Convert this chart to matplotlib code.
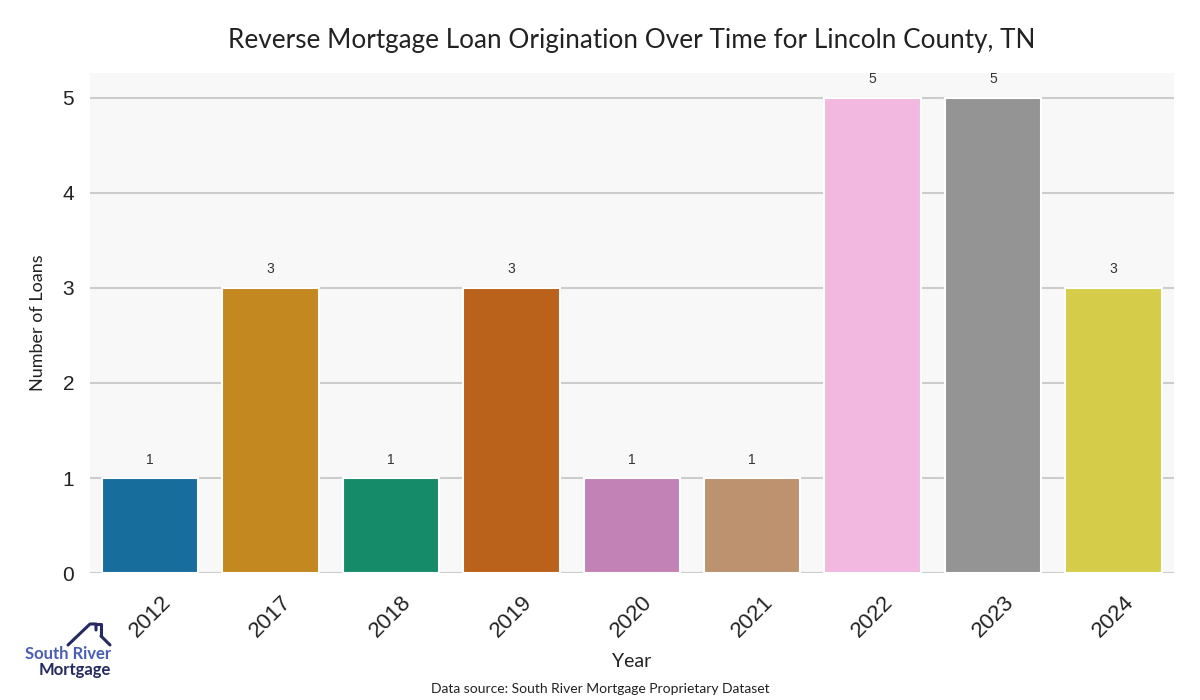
import matplotlib
matplotlib.use("Agg")
import matplotlib.pyplot as plt
from matplotlib.lines import Line2D
import seaborn as sns
import pandas as pd

years = ['2012', '2017', '2018', '2019', '2020', '2021', '2022', '2023', '2024']
loans = [1, 3, 1, 3, 1, 1, 5, 5, 3]

df = pd.DataFrame({'Year': years, 'Loans': loans})

sns.set_style("whitegrid")
plt.rcParams['font.family'] = ['Liberation Sans', 'DejaVu Sans']

fig, ax = plt.subplots(figsize=(12, 7), dpi=100)
fig.subplots_adjust(left=0.075, right=0.978, top=0.896, bottom=0.181)

sns.barplot(data=df, x='Year', y='Loans', hue='Year', palette='colorblind',
            legend=False, ax=ax, edgecolor='white', linewidth=1.5, width=0.8)

ax.set_facecolor('#f8f8f8')
ax.grid(True, axis='y', color='#cccccc', linewidth=1.5)
ax.grid(False, axis='x')
ax.set_axisbelow(True)
for s in ax.spines.values():
    s.set_visible(False)

ax.set_ylim(0, 5.26)
ax.set_xlim(-0.5, len(years) - 0.5)
ax.set_yticks(range(0, 6))
ax.tick_params(axis='y', labelsize=15, colors='#222222', pad=8)
ax.tick_params(axis='x', labelsize=16, colors='#222222', rotation=45, pad=10)

# value labels above bars
for i, v in enumerate(loans):
    ax.text(i, v + 0.12, str(v), ha='center', va='bottom', fontsize=10, color='#333333')

ax.set_title('Reverse Mortgage Loan Origination Over Time for Lincoln County, TN',
             fontsize=18.8, family='Lato', color='#222222', pad=18)
ax.set_xlabel('Year', fontsize=14, family='Lato', color='#222222', labelpad=8)
ax.set_ylabel('Number of Loans', fontsize=13, family='Lato', color='#222222', labelpad=12)

fig.text(0.5, 0.007, 'Data source: South River Mortgage Proprietary Dataset',
         ha='center', va='bottom', fontsize=10, family='Lato', color='#222222')

# logo
def fp(x, y):
    return x / 1200, 1 - y / 700

roof_x, roof_y = zip(fp(68, 645), fp(90, 624), fp(96, 624), fp(96, 630))
fig.add_artist(Line2D(roof_x, roof_y, color='#252a60', linewidth=2.2, transform=fig.transFigure))
roof2_x, roof2_y = zip(fp(101, 636), fp(101, 624), fp(96, 624))
fig.add_artist(Line2D(roof2_x, roof2_y, color='#252a60', linewidth=2.2, transform=fig.transFigure))
roof3_x, roof3_y = zip(fp(101, 636), fp(110, 645))
fig.add_artist(Line2D(roof3_x, roof3_y, color='#252a60', linewidth=2.2, transform=fig.transFigure))
x0, y0 = fp(111, 654)
fig.text(x0, y0, 'South River', ha='right', va='center', fontsize=12,
         family='Lato', fontweight='bold', color='#4a5fb3')
x1, y1 = fp(111, 670)
fig.text(x1, y1, 'Mortgage', ha='right', va='center', fontsize=12,
         family='Lato', fontweight='bold', color='#252a60')

fig.savefig('out.png', dpi=100)
